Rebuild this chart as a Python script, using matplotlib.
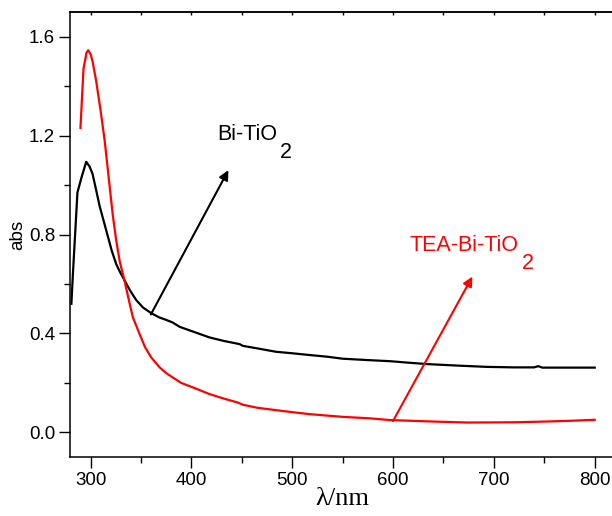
import matplotlib
matplotlib.use("Agg")
import matplotlib.pyplot as plt
from matplotlib.ticker import MultipleLocator

plt.rcParams['font.family'] = ['Liberation Sans', 'DejaVu Sans']

# Bi-TiO2 (black)
wl_bi = [281, 282.5, 287, 291, 295.7, 299, 302, 305, 309, 313, 317, 321, 325.5, 329,
         333.7, 339, 345.3, 352, 360.2, 368, 375, 381.6, 388.3, 400, 418, 432, 447.8,
         451, 465, 484, 500, 517, 535, 550, 577, 597, 615, 635, 665, 693, 720, 740,
         744, 748, 770, 800]
abs_bi = [0.52, 0.64, 0.97, 1.03, 1.094, 1.075, 1.045, 0.99, 0.915, 0.855, 0.795, 0.735,
          0.68, 0.65, 0.615, 0.575, 0.535, 0.505, 0.482, 0.465, 0.455, 0.444, 0.427, 0.41,
          0.384, 0.37, 0.357, 0.35, 0.34, 0.326, 0.32, 0.313, 0.306, 0.298, 0.292, 0.288,
          0.282, 0.276, 0.27, 0.265, 0.263, 0.263, 0.268, 0.262, 0.262, 0.262]

# TEA-Bi-TiO2 (red)
wl_tea = [290, 293, 296, 297.7, 300, 302, 305.6, 310, 314, 318, 322, 325.5, 329,
          333.7, 338, 342, 348.6, 354, 360.2, 368.5, 375, 381.6, 390, 401.5, 418,
          432, 446, 451, 465, 484, 500, 517, 550, 577, 597, 640, 674, 720, 751, 775, 800]
abs_tea = [1.231, 1.47, 1.535, 1.545, 1.53, 1.50, 1.42, 1.30, 1.18, 1.03, 0.88, 0.775,
           0.69, 0.613, 0.535, 0.465, 0.398, 0.345, 0.303, 0.263, 0.24, 0.222, 0.2,
           0.182, 0.155, 0.137, 0.121, 0.112, 0.1, 0.09, 0.082, 0.074, 0.063, 0.057,
           0.05, 0.044, 0.04, 0.041, 0.044, 0.047, 0.051]

fig = plt.figure(figsize=(6.12, 5.16), dpi=100)
ax = fig.add_axes([0.115, 0.114, 0.8897, 0.863])

ax.plot(wl_bi, abs_bi, color='black', lw=1.6)
ax.plot(wl_tea, abs_tea, color='red', lw=1.6)

ax.set_xlim(280, 820)
ax.set_ylim(-0.1, 1.7)
ax.xaxis.set_major_locator(MultipleLocator(100))
ax.xaxis.set_minor_locator(MultipleLocator(50))
ax.yaxis.set_major_locator(MultipleLocator(0.4))
ax.yaxis.set_minor_locator(MultipleLocator(0.2))
ax.yaxis.set_major_formatter(plt.FormatStrFormatter('%.1f'))
ax.tick_params(which='major', direction='out', length=8, width=1, labelsize=13.5, pad=3)
ax.tick_params(which='minor', direction='out', length=4, width=1)
for s in ax.spines.values():
    s.set_linewidth(1.1)

# small inward ticks on the top edge
top = ax.secondary_xaxis('top')
top.set_xticks(range(300, 801, 50))
top.tick_params(direction='in', length=2.5, width=1, labeltop=False)
top.spines['top'].set_linewidth(1.1)

ax.set_xlabel('λ/nm', family=['Liberation Serif', 'DejaVu Serif'], fontsize=19, labelpad=-1)
ax.set_ylabel('abs', fontsize=13.5, labelpad=2)

# arrows and labels
ax.annotate('', xy=(438, 1.07), xytext=(358.5, 0.467),
            arrowprops=dict(arrowstyle='-|>', color='black', lw=1.5, mutation_scale=14))
ax.annotate('', xy=(680, 0.64), xytext=(598.6, 0.036),
            arrowprops=dict(arrowstyle='-|>', color='red', lw=1.5, mutation_scale=14))

t1 = ax.text(426, 1.183, 'Bi-TiO', fontsize=15.5, color='black')
ax.annotate('2', xy=(1, 0), xycoords=t1, xytext=(2, 2), textcoords='offset points',
            va='top', ha='left', fontsize=15.5, color='black')
t2 = ax.text(616.5, 0.734, 'TEA-Bi-TiO', fontsize=15.5, color='red')
ax.annotate('2', xy=(1, 0), xycoords=t2, xytext=(2, 2), textcoords='offset points',
            va='top', ha='left', fontsize=15.5, color='red')

fig.savefig('out.png', dpi=100)
